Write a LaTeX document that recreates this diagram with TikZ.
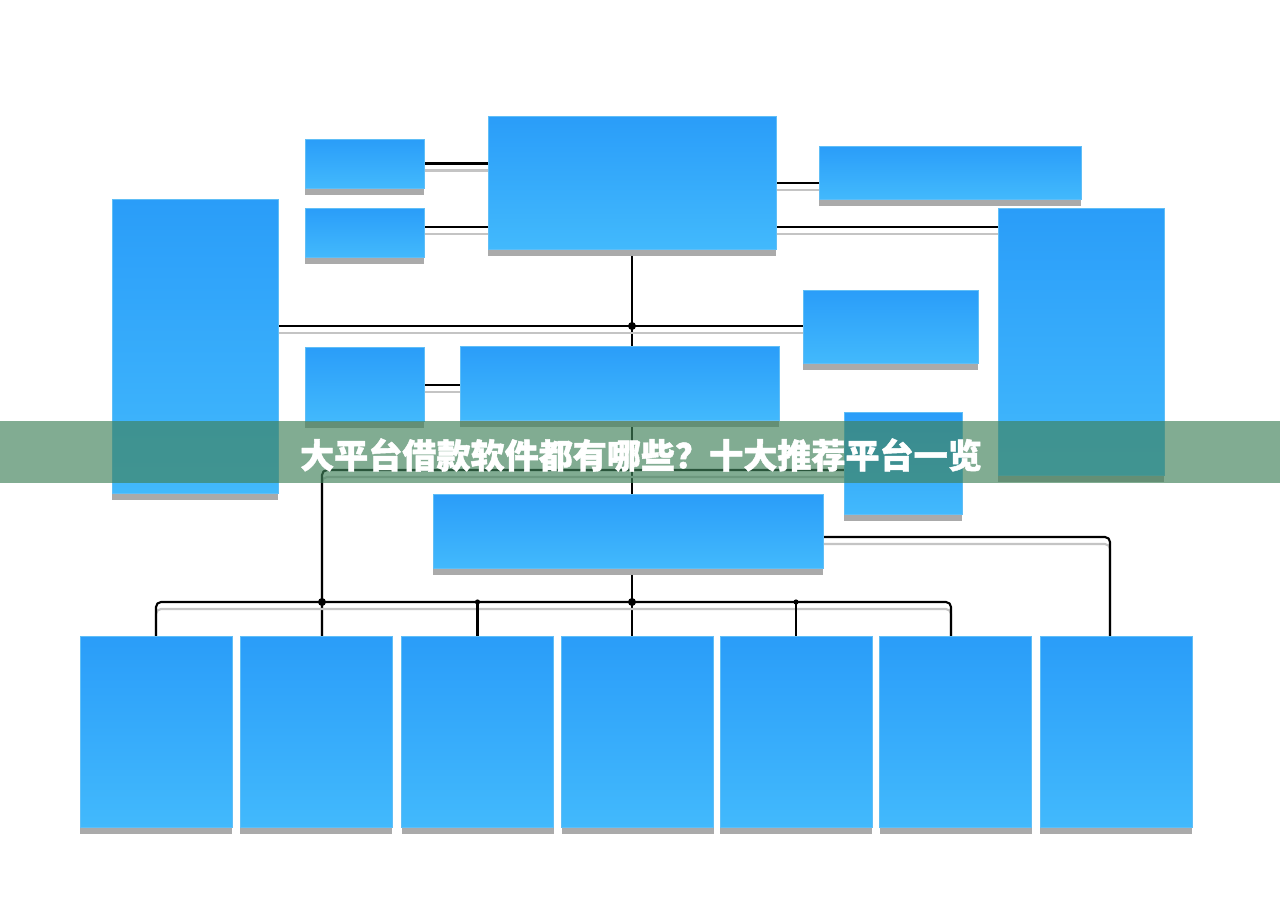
\documentclass[tikz,border=0pt]{standalone}
\usepackage{fontspec}
\usetikzlibrary{shadows}
\newfontfamily\cjk[BoldFeatures={FakeBold=1.3}]{Noto Sans CJK SC}
\definecolor{boxtop}{RGB}{42,157,249}
\definecolor{boxbot}{RGB}{66,185,252}
\definecolor{boxedge}{RGB}{96,190,246}
\definecolor{boxshade}{RGB}{170,170,170}
\definecolor{lineshade}{RGB}{196,196,196}
\definecolor{banner}{RGB}{64,130,91}
\pgfdeclarelayer{back}
\pgfsetlayers{back,main}
\tikzset{
  panel/.style 2 args={rectangle, inner sep=0pt, outer sep=0pt,
    minimum width=#1*0.02cm, minimum height=#2*0.02cm,
    top color=boxtop, bottom color=boxbot, draw=boxedge, line width=0.3pt,
    drop shadow={shadow xshift=0pt, shadow yshift=-0.14cm, fill=boxshade, opacity=1}},
  wire/.style={line width=1.2pt, preaction={draw=lineshade, line width=1.2pt, transform canvas={yshift=-0.14cm}}},
}

\begin{document}
\begin{tikzpicture}[x=0.02cm, y=-0.02cm]
            \begin{pgfonlayer}{back}
            \fill[white] (0,0) rectangle (1280,904);
            \end{pgfonlayer}
            \useasboundingbox (0,0) rectangle (1280,904);
            % upper part
            \node[panel={119}{49}] (l1) at (364.5,163.5) {};
            \node[panel={119}{49}] (l2) at (364.5,232.5) {};
            \node[panel={288}{133}] (top) at (632,182.5) {};
            \node[panel={262}{53}] (r1) at (950,172.5) {};
            \node[panel={166}{267}] (r2) at (1081,341.5) {};
            \node[panel={166}{294}] (lt) at (195,346) {};
            \node[panel={175}{73}] (mr) at (890.5,326.5) {};
            \node[panel={119}{74}] (s3) at (364.5,384) {};
            \node[panel={319}{74}] (mid) at (619.5,383) {};
            \node[panel={118}{102}] (sr) at (903,463) {};
            \node[panel={390}{74}] (wide) at (628,531) {};
            % bottom row
            \foreach \x [count=\i] in {156,316,477.5,637.5,796,955.5,1116}
                \node[panel={152}{191}] (b\i) at (\x,731.5) {};
            \coordinate (spine) at (632,0);
            \coordinate (j1) at (632,326);
            \coordinate (j2) at (632,470);
            \coordinate (bus) at (632,602);
            \coordinate (busr) at (951,602);
            \coordinate (j4) at (322,602);
            \begin{pgfonlayer}{back}
            \draw[wire] (l1.east) -- (l1.east -| top.west);
            \draw[wire] (l2.east |- 0,227) -- (top.west |- 0,227);
            \draw[wire] (top.east |- 0,183) -- (r1.west |- 0,183);
            \draw[wire] (top.east |- 0,227) -- (r2.west |- 0,227);
            \draw[wire] (top.south) -- (top.south |- mid.north);
            \draw[wire] (lt.east |- j1) -- (mr.west |- j1);
            \draw[wire] (s3.east |- 0,385) -- (mid.west |- 0,385);
            \draw[wire] (spine |- mid.south) -- (spine |- wide.north);
            \draw[wire, rounded corners=0.1cm] (sr.west |- j2) -| (b2.north -| j4);
            \draw[wire] (spine |- wide.south) -- (spine |- b4.north);
            \draw[wire, rounded corners=0.1cm] (b1.north) |- (busr) -- (busr |- b6.north);
            \draw[wire] (b3.north) -- (b3.north |- bus);
            \draw[wire] (b5.north) -- (b5.north |- bus);
            \draw[wire, rounded corners=0.1cm] (wide.east |- 0,537) -| (b7.north -| 1110,0);
            \end{pgfonlayer}
            \foreach \p in {j1,bus,j4} \fill (\p) circle (4);
            \foreach \p in {(j2),(477.5,602),(796,602)} \fill \p circle (2.6);
            % title band
            \fill[banner, fill opacity=0.66] (0,421) rectangle (1280,483);
            \node[text=white, font=\cjk\bfseries\fontsize{19.4pt}{20pt}\selectfont] (title) at (641,455) {大平台借款软件都有哪些？十大推荐平台一览};
        \end{tikzpicture}
\end{document}
